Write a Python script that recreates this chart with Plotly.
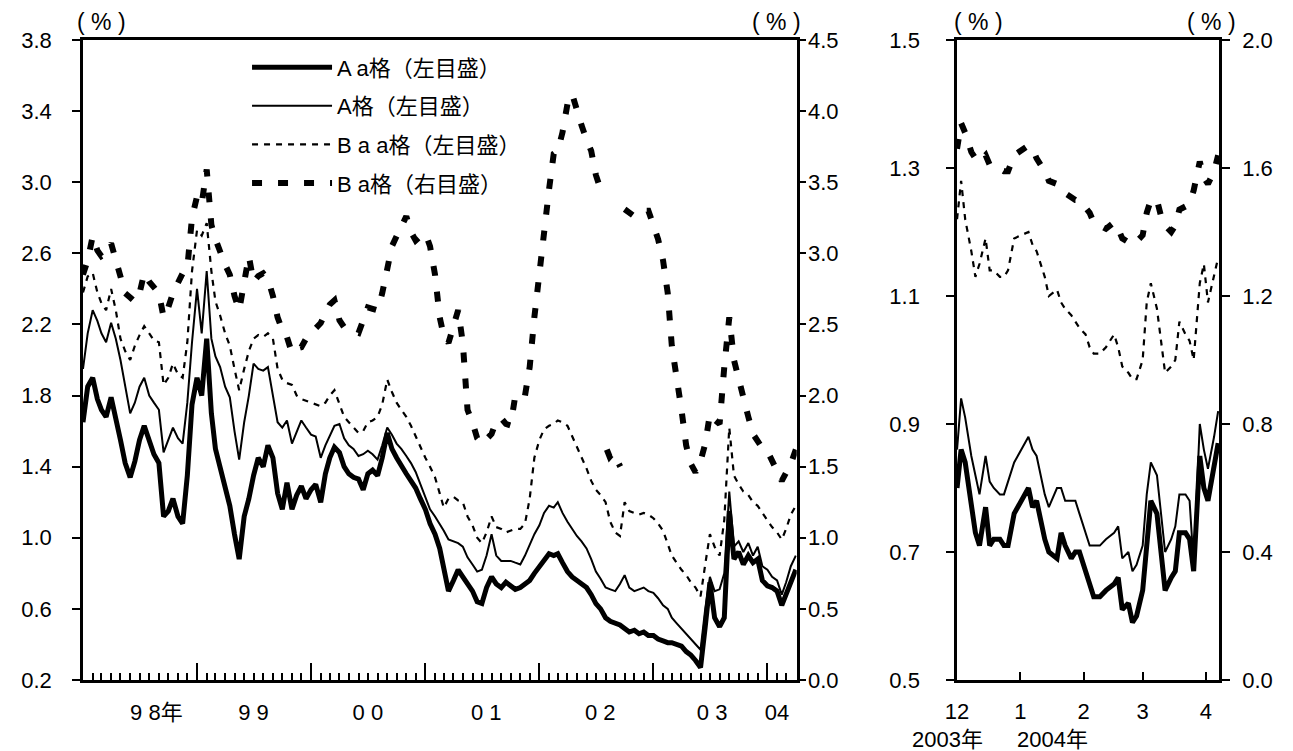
import pandas as pd
import plotly.graph_objects as go

# ---------------- main panel: Jan 1998 - Apr 2004 (semi-monthly readings) -------------
months = pd.date_range("1998-01-01", "2004-04-01", freq="MS")
main_dates = []
for m in months:
    main_dates.append(m.strftime("%Y-%m-01"))
    if m < pd.Timestamp("2004-04-01"):
        main_dates.append(m.strftime("%Y-%m-16"))

# Aa (left axis, %)
aa_main = [
    1.65, 1.85, 1.90, 1.78, 1.72, 1.68, 1.79, 1.68, 1.55, 1.42, 1.34, 1.43,
    1.55, 1.63, 1.55, 1.47, 1.42, 1.12, 1.15, 1.22, 1.12, 1.08, 1.35, 1.75,
    1.90, 1.80, 2.12, 1.70, 1.50, 1.40, 1.28, 1.18, 1.02, 0.88, 1.12, 1.22,
    1.35, 1.45, 1.40, 1.52, 1.45, 1.25, 1.16, 1.31, 1.16, 1.24, 1.29, 1.22,
    1.27, 1.30, 1.20, 1.36, 1.45, 1.51, 1.48, 1.40, 1.36, 1.34, 1.33, 1.27,
    1.36, 1.38, 1.35, 1.45, 1.59, 1.50, 1.45, 1.40, 1.36, 1.32, 1.28, 1.22,
    1.16, 1.08, 1.02, 0.94, 0.82, 0.70, 0.76, 0.82, 0.78, 0.74, 0.70, 0.64,
    0.63, 0.72, 0.78, 0.74, 0.72, 0.75, 0.73, 0.71, 0.72, 0.74, 0.76, 0.80,
    0.84, 0.88, 0.91, 0.90, 0.91, 0.86, 0.81, 0.78, 0.76, 0.74, 0.72, 0.68,
    0.63, 0.60, 0.55, 0.53, 0.52, 0.51, 0.49, 0.47, 0.48, 0.46, 0.47, 0.45,
    0.45, 0.43, 0.42, 0.41, 0.41, 0.40, 0.39, 0.36, 0.34, 0.31, 0.27, 0.50,
    0.75, 0.55, 0.50, 0.55, 1.15, 0.88, 0.92, 0.85, 0.90, 0.86, 0.88, 0.76,
    0.73, 0.72, 0.70, 0.62, 0.68, 0.76, 0.82,
]

# A (left axis, %)
a_main = [
    1.95, 2.15, 2.28, 2.22, 2.15, 2.10, 2.21, 2.12, 2.00, 1.85, 1.70, 1.76,
    1.85, 1.90, 1.80, 1.76, 1.72, 1.48, 1.55, 1.62, 1.56, 1.53, 1.76, 2.10,
    2.40, 2.15, 2.50, 2.12, 2.02, 1.96, 1.85, 1.79, 1.60, 1.44, 1.65, 1.80,
    1.98, 1.95, 1.94, 1.96, 1.80, 1.65, 1.62, 1.66, 1.53, 1.60, 1.66, 1.62,
    1.58, 1.57, 1.45, 1.52, 1.57, 1.63, 1.64, 1.56, 1.52, 1.50, 1.46, 1.47,
    1.49, 1.47, 1.44, 1.52, 1.62, 1.58, 1.53, 1.50, 1.46, 1.42, 1.37, 1.30,
    1.22, 1.16, 1.12, 1.08, 1.04, 0.99, 0.98, 0.97, 0.95, 0.89, 0.85, 0.81,
    0.82, 0.90, 1.02, 0.90, 0.87, 0.87, 0.87, 0.86, 0.85, 0.90, 0.96, 1.02,
    1.07, 1.14, 1.18, 1.17, 1.20, 1.14, 1.09, 1.05, 1.01, 0.98, 0.94, 0.88,
    0.81, 0.77, 0.72, 0.71, 0.70, 0.74, 0.79, 0.72, 0.70, 0.71, 0.72, 0.70,
    0.69, 0.66, 0.62, 0.60, 0.55, 0.52, 0.49, 0.46, 0.43, 0.40, 0.37, 0.60,
    0.78, 0.70, 0.71, 0.80, 1.26, 0.95, 0.98, 0.92, 0.97, 0.90, 0.95, 0.84,
    0.82, 0.78, 0.76, 0.68, 0.75, 0.84, 0.90,
]

# Baa (left axis, %)
baa_main = [
    2.38, 2.47, 2.49, 2.38, 2.32, 2.28, 2.40, 2.28, 2.12, 2.05, 2.00, 2.08,
    2.14, 2.19, 2.15, 2.11, 2.10, 1.86, 1.90, 1.98, 1.92, 1.90, 2.10, 2.50,
    2.73, 2.70, 2.77, 2.50, 2.33, 2.25, 2.15, 2.08, 1.95, 1.83, 1.95, 2.05,
    2.12, 2.14, 2.13, 2.15, 2.12, 1.95, 1.89, 1.87, 1.86, 1.80, 1.78, 1.77,
    1.76, 1.75, 1.74, 1.76, 1.80, 1.83, 1.75, 1.68, 1.65, 1.62, 1.59, 1.60,
    1.65, 1.66, 1.68, 1.75, 1.89, 1.82, 1.76, 1.72, 1.68, 1.63, 1.57, 1.52,
    1.45, 1.40, 1.34, 1.25, 1.17, 1.22, 1.23, 1.21, 1.20, 1.12, 1.07, 1.00,
    0.97, 1.03, 1.12, 1.06, 1.05, 1.03, 1.04, 1.05, 1.05, 1.08, 1.22, 1.45,
    1.55, 1.61, 1.63, 1.64, 1.66, 1.65, 1.63, 1.57, 1.52, 1.45, 1.39, 1.32,
    1.27, 1.24, 1.20, 1.09, 1.03, 1.01, 1.20, 1.15, 1.14, 1.13, 1.14, 1.13,
    1.11, 1.08, 1.04, 0.97, 0.90, 0.86, 0.82, 0.79, 0.75, 0.72, 0.67, 0.85,
    1.02, 0.95, 0.90, 1.10, 1.62, 1.35, 1.30, 1.26, 1.24, 1.20, 1.18, 1.14,
    1.10, 1.06, 1.03, 0.99, 1.05, 1.13, 1.18,
]

# Ba (right axis, %); None = no data
ba_main = [
    2.85, 2.95, 3.12, 3.02, 2.98, 3.00, 3.07, 2.95, 2.82, 2.72, 2.69, 2.66,
    2.72, 2.86, 2.80, 2.76, 2.72, 2.55, 2.62, 2.72, 2.80, 2.86, 2.90, 3.25,
    3.40, 3.35, 3.59, 3.20, 3.10, 3.00, 2.92, 2.85, 2.70, 2.60, 2.82, 2.98,
    2.80, 2.84, 2.86, 2.82, 2.70, 2.55, 2.46, 2.41, 2.30, 2.33, 2.34, 2.40,
    2.44, 2.47, 2.51, 2.58, 2.64, 2.67, 2.53, 2.48, 2.46, 2.45, 2.44, 2.52,
    2.62, 2.61, 2.60, 2.72, 2.90, 3.05, 3.12, 3.18, 3.26, 3.15, 3.09, 3.12,
    3.14, 3.05, 2.85, 2.55, 2.42, 2.37, 2.50, 2.60, 2.37, 1.90, 1.81, 1.70,
    1.66, 1.70, 1.73, 1.82, 1.84, 1.80, 1.79, 2.00, 2.02, 2.00, 2.20, 2.55,
    2.86, 3.20, 3.45, 3.70, 3.72, 3.85, 4.05, 4.12, 4.00, 3.90, 3.80, 3.72,
    3.55, 3.45, None, None, None, None, 3.31, 3.28, 3.26, 3.28, 3.30, 3.30,
    3.20, 3.10, 2.95, 2.72, 2.35, 2.15, 1.90, 1.65, 1.52, 1.46, 1.54, 1.66,
    1.87, 1.83, 1.80, 2.20, 2.55, 2.25, 2.12, 1.95, 1.85, 1.73, 1.67, 1.63,
    1.61, 1.53, 1.47, 1.40, 1.46, 1.52, 1.62,
]
# isolated Ba readings in Aug-Sep 2002
ba_iso_dates = ["2002-08-05", "2002-08-14", "2002-08-26", "2002-09-05", "2002-09-17"]
ba_iso_vals = [1.62, 1.57, 1.60, 1.55, 1.50]

# ---------------- sub panel: Dec 2003 - Apr 2004 -------------
sub_dates = [
    "2003-12-01", "2003-12-03", "2003-12-05", "2003-12-08", "2003-12-10", "2003-12-12",
    "2003-12-15", "2003-12-17", "2003-12-19", "2003-12-22", "2003-12-24", "2003-12-26",
    "2003-12-29", "2004-01-05", "2004-01-07", "2004-01-09", "2004-01-13", "2004-01-15",
    "2004-01-19", "2004-01-21", "2004-01-23", "2004-01-26", "2004-01-28", "2004-01-30",
    "2004-02-02", "2004-02-04", "2004-02-06", "2004-02-09", "2004-02-12", "2004-02-16",
    "2004-02-18", "2004-02-20", "2004-02-23", "2004-02-25", "2004-02-27", "2004-03-01",
    "2004-03-03", "2004-03-05", "2004-03-08", "2004-03-10", "2004-03-12", "2004-03-15",
    "2004-03-17", "2004-03-19", "2004-03-22", "2004-03-24", "2004-03-26", "2004-03-29",
    "2004-03-31", "2004-04-02", "2004-04-05", "2004-04-07",
]
aa_sub = [
    0.80, 0.86, 0.84, 0.78, 0.73, 0.71, 0.77, 0.71, 0.72, 0.72, 0.71, 0.71, 0.76,
    0.80, 0.77, 0.78, 0.72, 0.70, 0.69, 0.73, 0.71, 0.69, 0.70, 0.70,
    0.67, 0.65, 0.63, 0.63, 0.64, 0.65, 0.66, 0.61, 0.62, 0.59, 0.60,
    0.64, 0.72, 0.78, 0.76, 0.70, 0.64, 0.66, 0.67, 0.73, 0.73, 0.72, 0.67, 0.85, 0.80,
    0.78, 0.84, 0.87,
]
a_sub = [
    0.86, 0.94, 0.91, 0.85, 0.82, 0.79, 0.85, 0.81, 0.80, 0.79, 0.79, 0.81, 0.84,
    0.88, 0.86, 0.85, 0.79, 0.77, 0.80, 0.80, 0.78, 0.78, 0.78, 0.76,
    0.73, 0.71, 0.71, 0.71, 0.72, 0.73, 0.74, 0.69, 0.70, 0.67, 0.68,
    0.71, 0.79, 0.84, 0.82, 0.76, 0.70, 0.72, 0.74, 0.79, 0.79, 0.78, 0.68, 0.90, 0.86,
    0.83, 0.88, 0.92,
]
baa_sub = [
    1.22, 1.28, 1.22, 1.17, 1.13, 1.15, 1.19, 1.14, 1.14, 1.13, 1.13, 1.14, 1.19,
    1.20, 1.18, 1.17, 1.13, 1.10, 1.11, 1.09, 1.08, 1.07, 1.06, 1.05,
    1.04, 1.02, 1.01, 1.01, 1.02, 1.04, 1.02, 0.99, 0.98, 0.97, 0.97,
    1.00, 1.09, 1.12, 1.08, 1.03, 0.98, 0.99, 1.00, 1.06, 1.04, 1.03, 1.00, 1.12, 1.15,
    1.09, 1.13, 1.16,
]
ba_sub = [
    1.66, 1.74, 1.71, 1.65, 1.63, 1.62, 1.64, 1.61, 1.61, 1.60, 1.59, 1.59, 1.64,
    1.67, 1.66, 1.63, 1.59, 1.56, 1.55, 1.53, 1.52, 1.51, 1.50, 1.50,
    1.48, 1.46, 1.43, 1.42, 1.41, 1.43, 1.41, 1.38, 1.37, 1.36, 1.37,
    1.39, 1.46, 1.50, 1.50, 1.45, 1.42, 1.40, 1.42, 1.47, 1.48, 1.49, 1.53, 1.62, 1.57,
    1.55, 1.59, 1.64,
]

# ---------------- axes / labels -------------
series_names = ["A a格（左目盛）", "A格（左目盛）", "B a a格（左目盛）", "B a格（右目盛）"]
main_left_ticks = [0.2, 0.6, 1.0, 1.4, 1.8, 2.2, 2.6, 3.0, 3.4, 3.8]
main_right_ticks = [0.0, 0.5, 1.0, 1.5, 2.0, 2.5, 3.0, 3.5, 4.0, 4.5]
sub_left_ticks = [0.5, 0.7, 0.9, 1.1, 1.3, 1.5]
sub_right_ticks = [0.0, 0.4, 0.8, 1.2, 1.6, 2.0]
year_tick_dates = ["1999-01-01", "2000-01-01", "2001-01-01", "2002-01-01", "2003-01-01", "2004-01-01"]
year_label_dates = ["1998-08-24", "1999-07-01", "2000-07-01", "2001-07-15", "2002-07-15", "2003-07-08", "2004-02-01"]
year_labels = ["9 8年", "9 9", "0 0", "0 1", "0 2", "0 3", "04"]
sub_month_dates = ["2003-12-01", "2004-01-01", "2004-02-01", "2004-03-01", "2004-04-01"]
sub_month_labels = ["12", "1", "2", "3", "4"]
sub_year_labels = ["2003年", "2004年"]
unit_label = "( % )"

FONT = "Liberation Sans, Arial, Noto Sans CJK JP, sans-serif"
BLACK = "black"

styles = [
    dict(color=BLACK, width=5),
    dict(color=BLACK, width=2),
    dict(color=BLACK, width=2.2, dash="6px,6px"),
    dict(color=BLACK, width=6, dash="10px,16px"),
]

fig = go.Figure()
main_series = [aa_main, a_main, baa_main, ba_main]
main_yaxes = ["y", "y", "y", "y2"]
for i, (vals, ya) in enumerate(zip(main_series, main_yaxes)):
    fig.add_trace(go.Scatter(x=main_dates, y=vals, mode="lines", name=series_names[i],
                             line=styles[i], xaxis="x", yaxis=ya, connectgaps=False,
                             legendgroup=f"g{i}", showlegend=True))
# plotted against the overlaid label axis x3 (same range as x)
fig.add_trace(go.Scatter(x=ba_iso_dates, y=ba_iso_vals, mode="lines", line=styles[3],
                         xaxis="x3", yaxis="y2", showlegend=False, legendgroup="g3"))

sub_series = [aa_sub, a_sub, baa_sub, ba_sub]
sub_yaxes = ["y3", "y3", "y3", "y4"]
for i, (vals, ya) in enumerate(zip(sub_series, sub_yaxes)):
    fig.add_trace(go.Scatter(x=sub_dates, y=vals, mode="lines", line=styles[i],
                             xaxis="x2", yaxis=ya, showlegend=False, legendgroup=f"g{i}"))

axis_common = dict(showline=True, linecolor=BLACK, linewidth=2.5, showgrid=False,
                   zeroline=False, automargin=False, tickcolor=BLACK,
                   tickfont=dict(family=FONT, size=22, color=BLACK))

L_END = 0.6283
R_START = 0.7694
MAIN_RANGE = ["1998-01-01", "2004-04-04"]

fig.update_layout(
    width=1293, height=751,
    margin=dict(l=75, r=82, t=32, b=79),
    paper_bgcolor="white", plot_bgcolor="white",
    font=dict(family=FONT, size=22, color=BLACK),
    xaxis=dict(domain=[0, L_END], anchor="y", type="date",
               range=MAIN_RANGE, mirror=True,
               ticks="inside", ticklen=17, tickwidth=2, tickmode="array",
               tickvals=year_tick_dates, showticklabels=False,
               minor=dict(ticks="inside", ticklen=7, tickwidth=1.5, tickcolor=BLACK,
                          tickmode="linear", tick0="1998-01-01", dtick="M1", showgrid=False),
               **axis_common),
    xaxis3=dict(overlaying="x", anchor="y", type="date",
                range=MAIN_RANGE, showline=False, showgrid=False,
                zeroline=False, automargin=False, ticks="", tickmode="array",
                tickvals=year_label_dates, ticktext=year_labels, ticklabelstandoff=17,
                tickfont=dict(family=FONT, size=22, color=BLACK)),
    yaxis=dict(domain=[0, 1], anchor="x", range=[0.2, 3.8], tickmode="array",
               tickvals=main_left_ticks, tickformat=".1f", ticks="outside", ticklen=8,
               tickwidth=2, ticklabelstandoff=16, **axis_common),
    yaxis2=dict(overlaying="y", side="right", anchor="x", range=[0, 4.5], tickmode="array",
                tickvals=main_right_ticks, tickformat=".1f", ticks="outside", ticklen=7,
                tickwidth=2, ticklabelstandoff=-3, **axis_common),
    xaxis2=dict(domain=[R_START, 1], anchor="y3", type="date",
                range=["2003-12-01", "2004-04-07 10:00"], mirror=True,
                ticks="inside", ticklen=8, tickwidth=2, tickmode="array",
                tickvals=sub_month_dates, ticktext=sub_month_labels, ticklabelstandoff=10,
                **axis_common),
    yaxis3=dict(domain=[0, 1], anchor="x2", range=[0.5, 1.5], tickmode="array",
                tickvals=sub_left_ticks, tickformat=".1f", ticks="outside", ticklen=8,
                tickwidth=2, ticklabelstandoff=22, **axis_common),
    yaxis4=dict(overlaying="y3", side="right", anchor="x2", range=[0, 2.0], tickmode="array",
                tickvals=sub_right_ticks, tickformat=".1f", ticks="outside", ticklen=8,
                tickwidth=2, ticklabelstandoff=8, **axis_common),
    legend=dict(x=0.1444, y=0.99, xanchor="left", yanchor="top", bgcolor="rgba(0,0,0,0)",
                font=dict(family=FONT, size=22, color=BLACK), tracegroupgap=7,
                itemwidth=80, borderwidth=0),
)

ann_font = dict(family=FONT, size=23, color=BLACK)
for xp in [(101 - 83) / 1136, (776 - 83) / 1136, (978 - 83) / 1136, (1211 - 83) / 1136]:
    fig.add_annotation(x=xp, y=(680 - 22) / 640, xref="paper", yref="paper", text=unit_label,
                       showarrow=False, font=ann_font, xanchor="center", yanchor="middle")
for txt, px in zip(sub_year_labels, [947, 1052]):
    fig.add_annotation(x=(px - 83) / 1136, y=(680 - 739) / 640, xref="paper", yref="paper",
                       text=txt, showarrow=False, xanchor="center", yanchor="middle",
                       font=dict(family=FONT, size=22, color=BLACK))

fig.write_html("out.html")
